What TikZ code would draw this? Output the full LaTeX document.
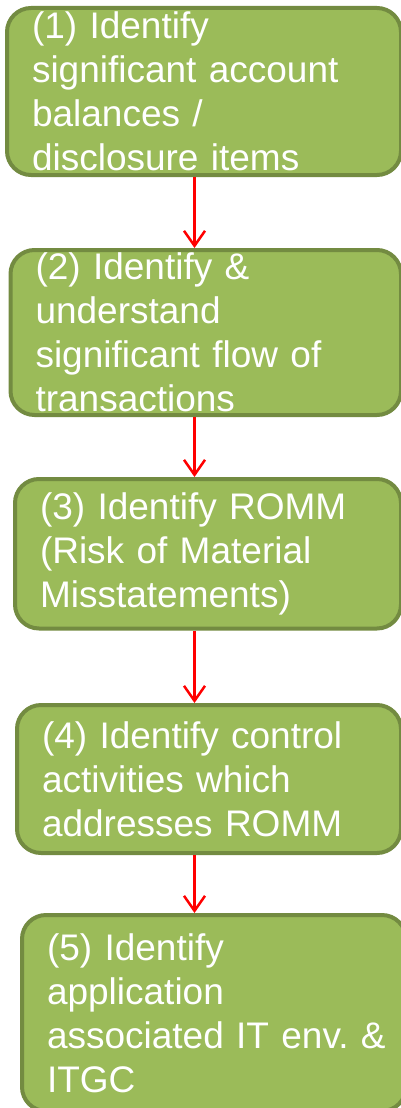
\documentclass[tikz,border=0pt]{standalone}
\usepackage{fontspec}
\setmainfont{Liberation Sans}
\usepackage{tikz}
\usetikzlibrary{arrows.meta, positioning}
\definecolor{stepfill}{HTML}{9BBB59}
\definecolor{stepline}{HTML}{738B41}
\definecolor{arrowred}{HTML}{FF0000}
\tikzset{
    stepbox/.style={rectangle, draw=stepline, line width=4pt, rounded corners=24pt, fill=stepfill,
        text=white, align=left, inner xsep=25pt, inner ysep=0pt,
        font=\fontsize{37}{44}\selectfont\frenchspacing},
    arrow/.style={draw=arrowred, line width=2.5pt, -{Straight Barb[length=15pt, width=21pt]}}
}

\begin{document}
\begin{tikzpicture}

    \useasboundingbox (0pt,0pt) rectangle (400pt,-1108pt);

    % Nodes
    \node[stepbox, anchor=north east, minimum width=394pt, minimum height=167pt, text width=344pt] (S1) at (403pt,-6pt)
        {(1) Identify\\significant account\\balances /\\disclosure items};
    \node[stepbox, below=71pt of S1.south east, anchor=north east, minimum width=390.5pt, minimum height=165pt, text width=340.5pt] (S2)
        {(2) Identify \&\\understand\\significant flow of\\transactions};
    \node[stepbox, below=60pt of S2.south east, anchor=north east, minimum width=386pt, minimum height=149.5pt, text width=336pt] (S3)
        {(3) Identify ROMM\\(Risk of Material\\Misstatements)};
    \node[stepbox, below=72.5pt of S3.south east, anchor=north east, minimum width=384pt, minimum height=148pt, text width=334pt] (S4)
        {(4) Identify control\\activities which\\addresses ROMM};
    \node[stepbox, below=58pt of S4.south east, anchor=north east, xshift=5pt, minimum width=384pt, minimum height=196pt, text width=334pt] (S5)
        {(5) Identify\\application\\\mbox{associated IT env. \&}\\ITGC};

    % Arrows
    \coordinate (ax) at (194.5pt,0pt);
    \draw[arrow] (S1.south -| ax) -- (S2.north -| ax);
    \draw[arrow] (S2.south -| ax) -- (S3.north -| ax);
    \draw[arrow] (S3.south -| ax) -- (S4.north -| ax);
    \draw[arrow] (S4.south -| ax) -- (S5.north -| ax);

\end{tikzpicture}
\end{document}
